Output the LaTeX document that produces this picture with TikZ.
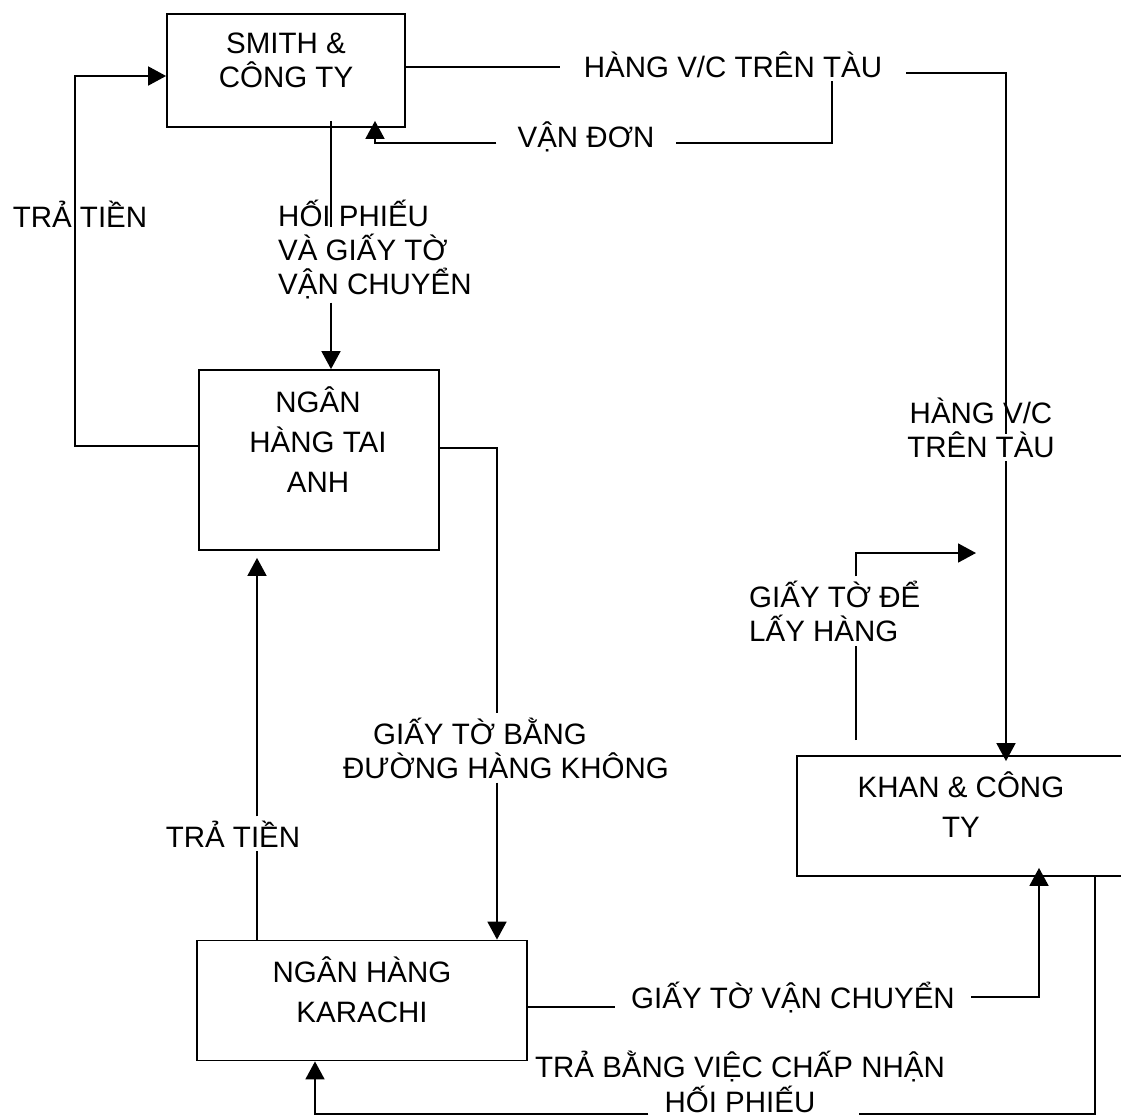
\documentclass[tikz,border=0pt]{standalone}
\usepackage{fontspec}
\setmainfont{Liberation Sans}
\usepackage{tikz}
\usetikzlibrary{arrows.meta,positioning}

\begin{document}
\begin{tikzpicture}[
  x=1pt, y=-1pt,
  font=\fontsize{29.5pt}{34pt}\selectfont,
  wide/.style={font=\fontsize{29.5pt}{40pt}\selectfont},
  block/.style={rectangle, draw=black, line width=1.8pt, inner sep=0pt},
  txt/.style={inner sep=0pt, align=center, anchor=base},
  lbl/.style={inner xsep=0pt, inner ysep=4pt, align=center, anchor=base},
  line/.style={line width=1.8pt},
  arrow/.style={line width=1.8pt, -{Triangle[length=18pt, width=19pt]}}
]
\useasboundingbox (0,0) rectangle (1121,1117);

\node[block, minimum width=238pt, minimum height=113pt] (smith) at (286,70.5) {};
\node[txt] (smithtxt) at (286,87) {SMITH \&\\CÔNG TY};
\node[block, minimum width=240pt, minimum height=180pt] (tai) at (319,460) {};
\node[txt, wide] (taitxt) at (318,492) {NGÂN\\HÀNG TAI\\ANH};
\node[block, minimum width=330pt, minimum height=120pt] (karachi) at (362,1000.5) {};
\node[txt, wide] (karachitxt) at (362,1022) {NGÂN HÀNG\\KARACHI};
\node[block, minimum width=333pt, minimum height=120pt] (khan) at (963.5,816) {};
\node[txt, wide] (khantxt) at (961,837) {KHAN \& CÔNG\\TY};

\node[lbl, inner xsep=24pt] (hang) at (733,77) {HÀNG V/C TRÊN TÀU};
\node[lbl, inner xsep=21pt] (vandon) at (586,147) {VẬN ĐƠN};
\node[lbl] (tra1) at (80,227) {TRẢ TIỀN};
\node[lbl, align=left, anchor=base west] (hoiphieu) at (278,294) {HỐI PHIẾU\\VÀ GIẤY TỜ\\VẬN CHUYỂN};
\node[lbl] (hang2) at (981,457) {HÀNG V/C\\TRÊN TÀU};
\node[lbl, align=left, anchor=base west] (giayde) at (749,641) {GIẤY TỜ ĐỂ\\LẤY HÀNG};
\node[lbl] (giaybang) at (506,778) {GIẤY TỜ BẰNG\hspace*{52pt}\\ĐƯỜNG HÀNG KHÔNG};
\node[lbl] (tra2) at (233,847) {TRẢ TIỀN};
\node[lbl, inner xsep=16pt] (giayvc) at (793,1008) {GIẤY TỜ VẬN CHUYỂN};
\node[lbl] (trabang) at (740,1077) {TRẢ BẰNG VIỆC CHẤP NHẬN};
\node[lbl, inner xsep=16pt] (hoiphieu2) at (740,1112) {HỐI PHIẾU};

\coordinate (ship) at (1006,73);
\coordinate (bill) at (832,143);
\coordinate (billin) at (375,143);
\coordinate (draft) at (331,300);
\coordinate (pay1) at (75,446);
\coordinate (air) at (497,448);
\coordinate (pay2) at (257,850);
\coordinate (docs) at (1039,997);
\coordinate (accept) at (1095,1114);
\coordinate (acceptin) at (315,1114);
\coordinate (pickup) at (856,740);
\coordinate (pickend) at (976,553);

\draw[line] ([yshift=3.5pt]smith.east) -- ([yshift=3.5pt]smith.east -| hang.west);
\draw[line] (hang.east |- ship) -- (ship) -- ([yshift=-7pt]ship |- hang2.center);
\draw[arrow] (ship |- hang2.south) -- ([yshift=-6pt]ship |- khan.north);

\draw[line] (bill |- hang.south) -- (bill) -- (vandon.east |- bill);
\draw[arrow] (vandon.west |- billin) -- (billin) -- ([yshift=7pt]billin |- smith.south);

\draw[line] ([yshift=7pt]draft |- smith.south) -- ([yshift=-32pt]draft |- hoiphieu.north);
\draw[arrow] (draft |- hoiphieu.south) -- (draft |- tai.north);

\draw[arrow] ([yshift=14pt]tai.west) -- (pay1) -- ([yshift=-5.5pt]pay1 |- smith.west) -- ([yshift=-5.5pt]smith.west);

\draw[line] ([yshift=12pt]tai.east) -- (air) -- (air |- giaybang.north);
\draw[arrow] (air |- giaybang.south) -- (air |- karachi.north);

\draw[line] (pay2 |- karachi.north) -- (pay2 |- tra2.south);
\draw[arrow] (pay2 |- tra2.north) -- ([yshift=-7pt]pay2 |- tai.south);

\draw[line] ([yshift=-6.5pt]karachi.east) -- ([yshift=-6.5pt]karachi.east -| giayvc.west);
\draw[arrow] (giayvc.east |- docs) -- (docs) -- ([yshift=9pt]docs |- khan.south);

\draw[line] (accept |- khan.south) -- (accept) -- ([xshift=27pt]accept -| hoiphieu2.east);
\draw[arrow] (hoiphieu2.west |- acceptin) -- (acceptin) -- (acceptin |- karachi.south);

\draw[line] (pickup) -- (pickup |- giayde.south);
\draw[arrow] (pickup |- giayde.north) -- (pickup |- pickend) -- (pickend);
\end{tikzpicture}
\end{document}
